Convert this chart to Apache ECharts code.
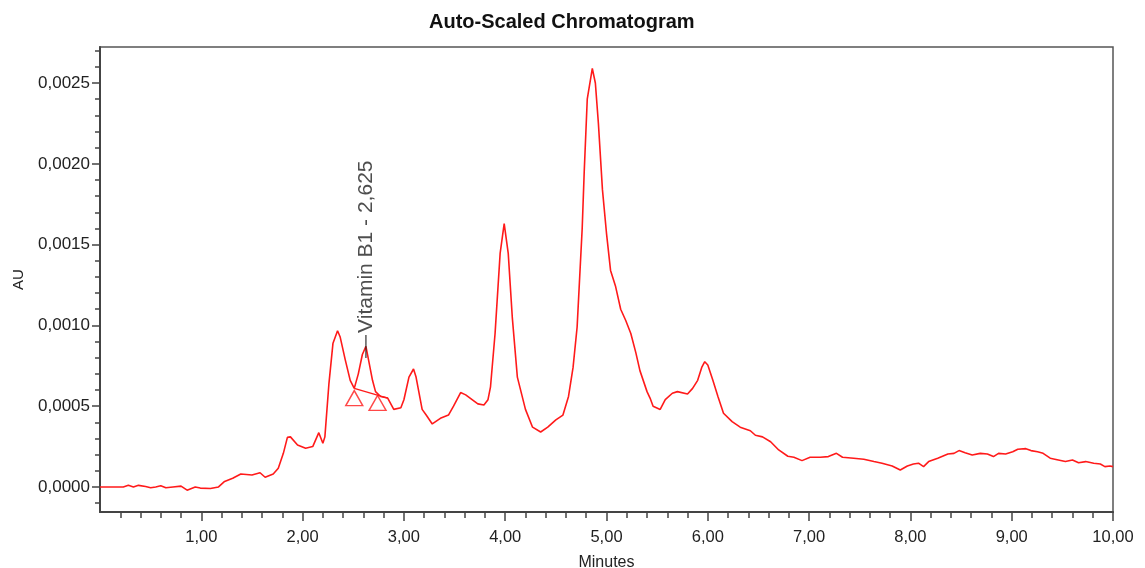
<!DOCTYPE html>
<html>
<head>
<meta charset="utf-8">
<script src="https://cdn.jsdelivr.net/npm/echarts@6/dist/echarts.min.js"></script>
<style>
  html, body { margin: 0; background: #fff; }
  #chart { width: 1145px; height: 568px; }
</style>
</head>
<body>
<div id="chart"></div>
<script>
// retention time (minutes) and detector response (AU)
var minutes = [
  0.00, 0.23, 0.28, 0.33, 0.38, 0.45, 0.50, 0.55, 0.60, 0.65, 0.72, 0.80, 0.86, 0.94, 0.99,
  1.09, 1.17, 1.23, 1.31, 1.39, 1.50, 1.58, 1.63, 1.71, 1.76, 1.81, 1.85, 1.88, 1.95,
  2.03, 2.10, 2.16, 2.20, 2.22, 2.26, 2.30, 2.345, 2.37, 2.42, 2.47, 2.51, 2.55, 2.59, 2.625,
  2.65, 2.69, 2.72, 2.77, 2.84, 2.90, 2.97, 3.00, 3.05, 3.095, 3.12, 3.18, 3.22, 3.28, 3.36,
  3.44, 3.49, 3.56, 3.61, 3.73, 3.79, 3.83, 3.855, 3.90, 3.95, 3.99, 4.03, 4.07, 4.12, 4.20,
  4.27, 4.35, 4.42, 4.50, 4.57, 4.625, 4.67, 4.71, 4.76, 4.78, 4.81, 4.86, 4.89, 4.92, 4.96,
  5.00, 5.04, 5.09, 5.14, 5.19, 5.24, 5.29, 5.33, 5.40, 5.43, 5.46, 5.53, 5.58, 5.65, 5.70,
  5.80, 5.85, 5.90, 5.94, 5.97, 6.00, 6.05, 6.10, 6.155, 6.24, 6.32, 6.42, 6.47, 6.54, 6.62,
  6.70, 6.79, 6.85, 6.93, 7.01, 7.11, 7.19, 7.27, 7.33, 7.44, 7.54, 7.64, 7.72, 7.82, 7.90,
  7.97, 8.03, 8.08, 8.13, 8.18, 8.27, 8.37, 8.43, 8.48, 8.54, 8.61, 8.69, 8.76, 8.82, 8.87,
  8.94, 9.01, 9.06, 9.14, 9.19, 9.255, 9.31, 9.38, 9.46, 9.53, 9.60, 9.66, 9.73, 9.81, 9.875,
  9.92, 9.97, 10.00
];
var absorbance = [
  0, 0, 0.00001, 0, 0.00001, 0.000003, -0.000005, 0, 0.000008, -0.000005, 0, 0.000005, -0.00002, 0, -0.000007,
  -0.00001, 0, 0.000034, 0.000054, 0.00008, 0.000074, 0.000088, 0.00006, 0.00008, 0.000116, 0.000208, 0.000307, 0.00031, 0.00026,
  0.00024, 0.00025, 0.000336, 0.00027, 0.00031, 0.00064, 0.00089, 0.000967, 0.00093, 0.00079, 0.00066, 0.00061, 0.0007, 0.00082, 0.00087,
  0.00079, 0.00066, 0.00059, 0.00056, 0.00055, 0.00048, 0.00049, 0.00054, 0.00068, 0.00073, 0.00068, 0.00048, 0.000445, 0.00039, 0.000425,
  0.000445, 0.0005, 0.000584, 0.00057, 0.000514, 0.000507, 0.00054, 0.00062, 0.00095, 0.001446, 0.00163, 0.001446, 0.00105, 0.00068, 0.00048,
  0.00037, 0.00034, 0.00037, 0.000415, 0.000445, 0.00056, 0.00074, 0.00099, 0.0016, 0.00195, 0.0024, 0.00259, 0.0025, 0.00225, 0.00184,
  0.00157, 0.00134, 0.00124, 0.0011, 0.00103, 0.00095, 0.00083, 0.00072, 0.00059, 0.00055, 0.0005, 0.00048, 0.00054, 0.00058, 0.00059,
  0.000575, 0.00061, 0.00066, 0.00074, 0.000775, 0.000755, 0.00066, 0.00056, 0.000456, 0.000404, 0.00037, 0.000348, 0.00032, 0.00031, 0.00028,
  0.000229, 0.00019, 0.000184, 0.000163, 0.000184, 0.000184, 0.000188, 0.000208, 0.000184, 0.000178, 0.000171, 0.000157, 0.000147, 0.00013, 0.000105,
  0.00013, 0.000142, 0.000147, 0.000126, 0.000157, 0.000178, 0.000204, 0.000208, 0.000225, 0.000212, 0.000198, 0.000208, 0.000204, 0.000188, 0.000208,
  0.000204, 0.000218, 0.000233, 0.000237, 0.000225, 0.000218, 0.000208, 0.000178, 0.000167, 0.000157, 0.000167, 0.00015, 0.000157, 0.000147, 0.000142,
  0.000126, 0.00013, 0.000126
];

// axis ticks
var majorMinutes = [1, 2, 3, 4, 5, 6, 7, 8, 9, 10];
var majorAU = [0, 0.0005, 0.001, 0.0015, 0.002, 0.0025];

// integration marks of the Vitamin B1 peak
var peakStartEnd = [[2.51, 0.00055], [2.74, 0.00052]];
var peakBaseline = [[2.51, 0.00061], [2.84, 0.00055]];
var peakLabelName = 'Vitamin B1 - 2,625';
var peakApex = [2.625, 0.00087];

var minorMinutes = [];
for (var i = 1; i < 50; i++) {
  if (i % 5 !== 0) minorMinutes.push(+(i * 0.2).toFixed(2));
}
var minorAU = [];
for (var j = -1; j <= 27; j++) {
  if (j % 5 !== 0) minorAU.push(+(j * 0.0001).toFixed(4));
}

var font = 'Arial, "Liberation Sans", sans-serif';
var axisColor = '#444';
var xRange = {min: 0, max: 10};
var yRange = {min: -0.000155, max: 0.002723};

function comma(digits) {
  return function(v) { return v.toFixed(digits).replace('.', ','); };
}

var chart = echarts.init(document.getElementById('chart'));
chart.setOption({
  animation: false,
  backgroundColor: '#fff',
  title: {
    text: 'Auto-Scaled Chromatogram',
    left: 424, top: 7,
    textStyle: {fontFamily: font, fontSize: 20, fontWeight: 'bold', color: '#111'}
  },
  grid: {
    left: 100, right: 32, top: 47, bottom: 56,
    outerBoundsMode: 'none', containLabel: false,
    show: true, borderColor: '#555', borderWidth: 1.5, backgroundColor: 'transparent'
  },
  xAxis: [{
    type: 'value', min: xRange.min, max: xRange.max, position: 'bottom',
    name: 'Minutes', nameLocation: 'middle', nameGap: 43,
    nameTextStyle: {fontFamily: font, fontSize: 16, color: '#222'},
    axisLine: {onZero: false, lineStyle: {color: axisColor, width: 2}},
    axisTick: {customValues: majorMinutes, length: 9, lineStyle: {color: axisColor, width: 1.5}},
    axisLabel: {customValues: majorMinutes, formatter: comma(2), margin: 17,
      fontFamily: font, fontSize: 16.5, color: '#222'},
    splitLine: {show: false}
  }, {
    type: 'value', min: xRange.min, max: xRange.max, position: 'bottom',
    axisLine: {show: false, onZero: false},
    axisTick: {customValues: minorMinutes, length: 6, lineStyle: {color: axisColor, width: 1.5}},
    axisLabel: {show: false},
    splitLine: {show: false}
  }],
  yAxis: [{
    type: 'value', min: yRange.min, max: yRange.max, position: 'left',
    name: 'AU', nameLocation: 'middle', nameGap: 74,
    nameTextStyle: {fontFamily: font, fontSize: 15, color: '#222'},
    axisLine: {show: true, onZero: false, lineStyle: {color: axisColor, width: 2}},
    axisTick: {show: true, customValues: majorAU, length: 8, lineStyle: {color: axisColor, width: 1.5}},
    axisLabel: {customValues: majorAU, formatter: comma(4), margin: 10,
      fontFamily: font, fontSize: 17, color: '#222'},
    splitLine: {show: false}
  }, {
    type: 'value', min: yRange.min, max: yRange.max, position: 'left',
    axisLine: {show: false, onZero: false},
    axisTick: {show: true, customValues: minorAU, length: 5, lineStyle: {color: axisColor, width: 1.5}},
    axisLabel: {show: false},
    splitLine: {show: false}
  }],
  series: [{
    type: 'line',
    data: minutes.map(function(t, k) { return [t, absorbance[k]]; }),
    showSymbol: false,
    lineStyle: {color: '#ff1a1a', width: 1.6},
    z: 3
  }, {
    type: 'line',
    data: peakBaseline,
    showSymbol: false,
    lineStyle: {color: '#ff1a1a', width: 1.3},
    z: 3
  }, {
    type: 'scatter',
    data: peakStartEnd,
    symbol: 'triangle',
    symbolSize: [17, 15],
    itemStyle: {color: 'rgba(0,0,0,0)', borderColor: '#ff1a1a', borderWidth: 1.4},
    z: 4
  }, {
    type: 'scatter',
    data: [peakApex],
    symbol: 'rect',
    symbolSize: [1.4, 23],
    itemStyle: {color: '#222'},
    label: {
      show: true,
      formatter: peakLabelName,
      position: [0.7, -2],
      rotate: 90,
      align: 'left',
      verticalAlign: 'middle',
      fontFamily: font, fontSize: 21, color: '#222'
    },
    z: 5
  }]
});
</script>
</body>
</html>
